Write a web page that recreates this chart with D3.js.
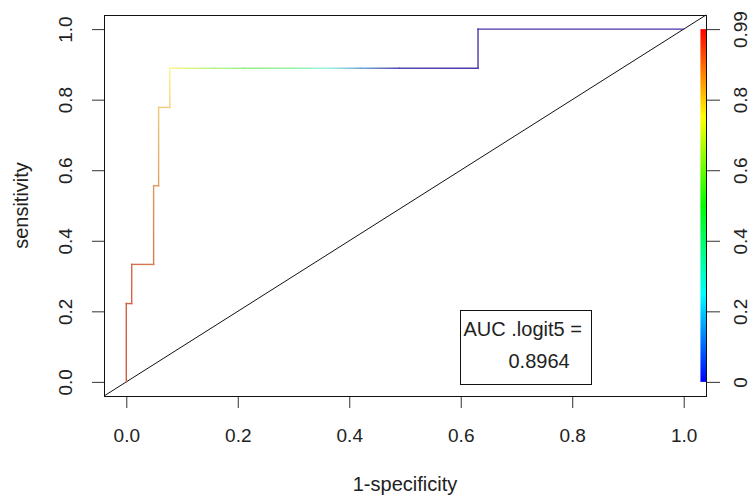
<!DOCTYPE html>
<html>
<head>
<meta charset="utf-8">
<script src="https://cdn.jsdelivr.net/npm/d3@7"></script>
<style>
  body { margin: 0; background: #fff; }
  text { font-family: "Liberation Sans", Arial, sans-serif; fill: #222; }
</style>
</head>
<body>
<div id="my_plot"></div>
<script>
var width = 754, height = 495;

// ROC curve points (1-specificity, sensitivity) and the cutoff at each point
var fpr    = [0, 0, 0.0097, 0.0097, 0.049, 0.049, 0.058, 0.058, 0.078, 0.078, 0.16, 0.21, 0.30, 0.365, 0.42, 0.49, 0.631, 0.631, 1.0];
var tpr    = [0, 0.222, 0.222, 0.333, 0.333, 0.556, 0.556, 0.778, 0.778, 0.889, 0.889, 0.889, 0.889, 0.889, 0.889, 0.889, 0.889, 1.0, 1.0];
var cutoff = [0.99, 0.96, 0.95, 0.93, 0.90, 0.86, 0.85, 0.80, 0.79, 0.75, 0.62, 0.50, 0.38, 0.28, 0.17, 0.06, 0.03, 0.01, 0.0];

var xTicks = [0, 0.2, 0.4, 0.6, 0.8, 1.0];
var yTicks = [0, 0.2, 0.4, 0.6, 0.8, 1.0];
var keyTicks = [0, 0.2, 0.4, 0.6, 0.8, 1.0];
var keyLabels = ["0", "0.2", "0.4", "0.6", "0.8", "0.99"];
var aucLines = ["AUC .logit5 =", "0.8964"];
var maxCutoff = 0.99;

var svg = d3.select("#my_plot")
  .append("svg")
    .attr("width", width)
    .attr("height", height);

var x = d3.scaleLinear()
  .domain([-0.04, 1.04])
  .range([104, 706]);
var y = d3.scaleLinear()
  .domain([-0.04, 1.04])
  .range([396, 15]);

// rainbow palette, red = high cutoff, blue = low
var color = function(c) {
  return d3.hsl(240 * (1 - c / maxCutoff), 1, 0.5).toString();
};
// the thin curve looks washed out in the picture, so soften its chroma
var lineColor = function(c) {
  var l = d3.lab(color(c));
  l.a *= 0.55;
  l.b *= 0.55;
  return l.toString();
};

var defs = svg.append("defs");

//X-axis
var xAxis = svg.append("g")
  .attr("transform", "translate(0," + y(-0.04) + ")")
  .call(d3.axisBottom(x).tickValues(xTicks).tickSize(12).tickFormat(d3.format(".1f")));
xAxis.select(".domain").remove();
xAxis.selectAll("line").attr("stroke", "#333");
xAxis.selectAll("text")
  .attr("y", 46)
  .attr("dy", null)
  .style("font-size", "19px");

//Y-axis
var yAxis = svg.append("g")
  .attr("transform", "translate(" + x(-0.04) + ",0)")
  .call(d3.axisLeft(y).tickValues(yTicks).tickSize(12).tickFormat(d3.format(".1f")));
yAxis.select(".domain").remove();
yAxis.selectAll("line").attr("stroke", "#333");
yAxis.selectAll("text")
  .attr("x", null)
  .attr("dy", null)
  .attr("text-anchor", "middle")
  .attr("transform", "translate(-32,0) rotate(-90)")
  .style("font-size", "19px");

//axis titles
svg.append("text")
  .attr("text-anchor", "middle")
  .attr("x", x(0.5))
  .attr("y", 491)
  .style("font-size", "20px")
  .text("1-specificity");
svg.append("text")
  .attr("text-anchor", "middle")
  .attr("transform", "translate(28," + y(0.5) + ") rotate(-90)")
  .style("font-size", "20px")
  .text("sensitivity");

// colour key on the right
var keyGrad = defs.append("linearGradient")
  .attr("id", "keygrad")
  .attr("x1", 0).attr("y1", 1)
  .attr("x2", 0).attr("y2", 0);
keyGrad.selectAll("stop")
  .data(d3.range(0, 1.0001, 0.05))
  .enter()
  .append("stop")
    .attr("offset", function(t) { return t; })
    .attr("stop-color", function(t) { return color(t * maxCutoff); });

svg.append("rect")
  .attr("x", x(1.03))
  .attr("y", y(1))
  .attr("width", x(1.04) - x(1.03) + 1)
  .attr("height", y(0) - y(1))
  .style("fill", "url(#keygrad)");

var keyAxis = svg.append("g")
  .attr("transform", "translate(" + (x(1.04) + 1) + ",0)")
  .call(d3.axisRight(y).tickValues(keyTicks).tickSize(13).tickFormat(function(d, i) { return keyLabels[i]; }));
keyAxis.select(".domain").remove();
keyAxis.selectAll("line").attr("stroke", "#333");
keyAxis.selectAll("text")
  .attr("x", null)
  .attr("dy", null)
  .attr("text-anchor", "middle")
  .attr("transform", "translate(40,0) rotate(-90)")
  .style("font-size", "19px");

// plot frame
svg.append("rect")
  .attr("x", x(-0.04) + 0.5)
  .attr("y", y(1.04) + 0.5)
  .attr("width", x(1.04) - x(-0.04))
  .attr("height", y(-0.04) - y(1.04))
  .style("fill", "none")
  .style("stroke", "#111")
  .style("stroke-width", 1);

// diagonal reference line
svg.append("line")
  .attr("x1", x(-0.04)).attr("y1", y(-0.04))
  .attr("x2", x(1.04)).attr("y2", y(1.04))
  .style("stroke", "#111")
  .style("stroke-width", 1);

// ROC curve, each step coloured by cutoff
var segs = d3.range(fpr.length - 1);
defs.selectAll(".seggrad")
  .data(segs)
  .enter()
  .append("linearGradient")
    .attr("class", "seggrad")
    .attr("id", function(i) { return "seg" + i; })
    .attr("gradientUnits", "userSpaceOnUse")
    .attr("x1", function(i) { return x(fpr[i]); })
    .attr("y1", function(i) { return y(tpr[i]); })
    .attr("x2", function(i) { return x(fpr[i + 1]); })
    .attr("y2", function(i) { return y(tpr[i + 1]); })
  .each(function(i) {
    var g = d3.select(this);
    g.append("stop").attr("offset", 0).attr("stop-color", lineColor(cutoff[i]));
    g.append("stop").attr("offset", 1).attr("stop-color", lineColor(cutoff[i + 1]));
  });

svg.append("g")
  .selectAll("line")
  .data(segs)
  .enter()
  .append("line")
    .attr("x1", function(i) { return x(fpr[i]); })
    .attr("y1", function(i) { return y(tpr[i]); })
    .attr("x2", function(i) { return x(fpr[i + 1]); })
    .attr("y2", function(i) { return y(tpr[i + 1]); })
    .style("stroke", function(i) { return "url(#seg" + i + ")"; })
    .style("stroke-width", 1.4)
    .style("stroke-linecap", "square");

// AUC legend box
svg.append("rect")
  .attr("x", 460.5)
  .attr("y", 310.5)
  .attr("width", 131)
  .attr("height", 74)
  .style("fill", "#fff")
  .style("stroke", "#111")
  .style("stroke-width", 1);
svg.append("text")
  .attr("x", 463.5)
  .attr("y", 336)
  .style("font-size", "20px")
  .text(aucLines[0]);
svg.append("text")
  .attr("x", 508.5)
  .attr("y", 368)
  .style("font-size", "20px")
  .text(aucLines[1]);
</script>
</body>
</html>
